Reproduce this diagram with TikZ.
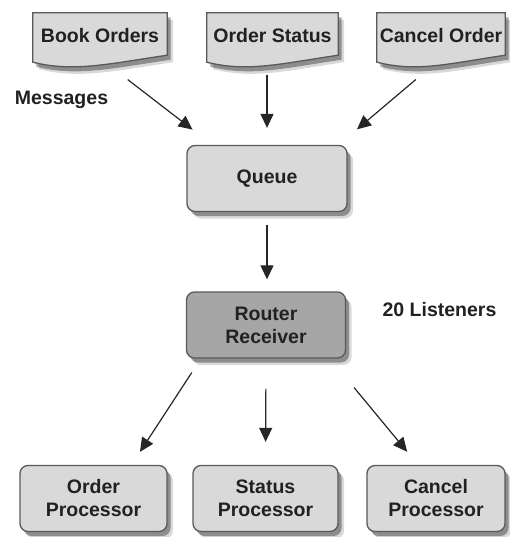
\documentclass[tikz,border=0pt]{standalone}
\usepackage{fontspec}
\setmainfont{Liberation Sans}
\usetikzlibrary{arrows.meta, calc, shadows, backgrounds}

\begin{document}
\begin{tikzpicture}[x=1pt, y=-1pt, >={Triangle[length=14pt, width=13pt]}]

    \tikzstyle{msg font} = [font=\fontsize{19.5}{23}\selectfont\bfseries, text=black!87];
    \tikzstyle{soft shadow} = [drop shadow={shadow xshift=6pt, shadow yshift=-7pt, fill=black, opacity=0.15},
        drop shadow={shadow xshift=3.5pt, shadow yshift=-4.5pt, fill=black, opacity=0.35}];
    \tikzstyle{doc node} = [msg font, rectangle, minimum height=45pt, inner sep=0pt];
    \tikzstyle{doc shape} = [draw=black!65, line width=1.3pt, fill=black!15, soft shadow];
    \tikzstyle{box node} = [msg font, rectangle, rounded corners=8pt, draw=black!65,
        line width=1.3pt, fill=black!15, minimum height=66pt, align=center, soft shadow];
    \tikzstyle{flow} = [->, line width=1.2pt, black!85];

    \useasboundingbox (0,0) rectangle (509,537);

    % Messages
    \node[doc node, minimum width=134pt] (BO) at (100,35.5) {Book Orders};
    \node[doc node, minimum width=131pt] (OS) at (272.5,35.5) {Order Status};
    \node[doc node, minimum width=128pt] (CO) at (441,35.5) {Cancel Order};
    \node[msg font] (MSG) at (61.5,100) {Messages};

    \begin{pgfonlayer}{background}
        \foreach \d in {BO, OS, CO}
            \draw[doc shape] (\d.north west) -- (\d.north east)
                -- ($(\d.south east)+(0,-3)$)
                .. controls ($(\d.south east)+(-60,6)$) and ($(\d.south west)+(40,14)$)
                .. ($(\d.south west)+(0,4)$) -- cycle;
    \end{pgfonlayer}

    % Queue and router
    \node[box node, minimum width=160pt] (QU) at (267,178.5) {Queue};
    \node[box node, minimum width=159pt, fill=black!35] (RR) at (266,325) {Router\\Receiver};
    \node[msg font] (LIS) at (439.5,310) {20 Listeners};

    % Processors
    \node[box node, minimum width=147pt] (OP) at (93.5,498.5) {Order\\Processor};
    \node[box node, minimum width=145pt] (SP) at (265.5,498.5) {Status\\Processor};
    \node[box node, minimum width=138pt] (CP) at (436,498.5) {Cancel\\Processor};

    \draw [flow, shorten <=35pt, shorten >=25pt] (BO.south)
        -- ($(QU.north west)+(26,0)$);
    \draw [flow, shorten <=17pt, shorten >=17pt] (OS.south -| QU.north)
        -- (QU.north);
    \draw [flow, shorten <=33pt, shorten >=24pt] (CO.south)
        -- ($(QU.north east)+(-9,0)$);

    \draw [flow, shorten <=13pt, shorten >=12pt] (QU.south)
        -- (RR.north -| QU.south);

    \draw [flow, shorten <=16.5pt, shorten >=15.5pt] ($(RR.south west)+(15,0)$)
        -- ($(OP.north)+(38,0)$);
    \draw [flow, shorten <=30pt, shorten >=23pt] (RR.south)
        -- (SP.north);
    \draw [flow, shorten <=37.5pt, shorten >=17pt] ($(RR.south east)+(-16,0)$)
        -- ($(CP.north)+(-18,0)$);

\end{tikzpicture}
\end{document}
